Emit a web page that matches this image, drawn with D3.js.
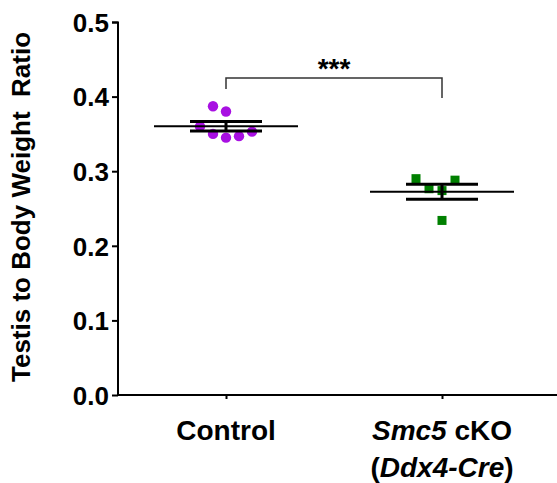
<!DOCTYPE html>
<head>
<script src="https://cdn.jsdelivr.net/npm/d3@7"></script>
<style>
body { margin: 0; background: #fff; font-family: "Liberation Sans", Arial, sans-serif; }
</style>
</head>
<body>
<svg></svg>
<script>
    // data
    var groups = ["Control", "Smc5"];
    var controlVals = [0.387, 0.380, 0.360, 0.350, 0.345, 0.347, 0.353];
    var controlJitter = [-1, 0, -2, -1, 0, 1, 2];
    var smc5Vals = [0.290, 0.2765, 0.274, 0.288, 0.234];
    var smc5Jitter = [-2, -1, 0, 1, 0];
    var yTicks = [0.0, 0.1, 0.2, 0.3, 0.4, 0.5];

    var width = 557, height = 483;
    var svg = d3.select("svg").attr("width", width).attr("height", height);

    var y = d3.scaleLinear().domain([0, 0.5]).range([395, 22]);
    var x = d3.scalePoint().domain(groups).range([226, 442]);
    var jit = 13; // px per jitter step

    function mean(a) { return d3.mean(a); }
    function sem(a) { return d3.deviation(a) / Math.sqrt(a.length); }

    // y axis
    var yAxis = d3.axisLeft(y).tickValues(yTicks).tickFormat(d3.format(".1f")).tickSize(6).tickPadding(3);
    var ya = svg.append("g").attr("transform", "translate(118,0)").call(yAxis);
    ya.select(".domain").attr("stroke", "#000").attr("stroke-width", 2).attr("d", "M-6,22.5H0V395");
    ya.selectAll(".tick line").attr("stroke", "#000").attr("stroke-width", 2);
    ya.selectAll(".tick text").attr("fill", "#000").style("font-size", "26px").style("font-weight", "bold")
        .style("font-family", "Liberation Sans, Arial, sans-serif").attr("dy", "0.36em");

    // x axis
    var xAxis = d3.axisBottom(x).tickSize(4).tickFormat("");
    var xa = svg.append("g").attr("transform", "translate(0,395)").call(xAxis);
    xa.select(".domain").attr("stroke", "#000").attr("stroke-width", 2).attr("d", "M117,0H557");
    xa.selectAll(".tick line").attr("stroke", "#000").attr("stroke-width", 2);

    // points
    svg.append("g").selectAll("circle").data(controlVals).enter().append("circle")
        .attr("cx", function (d, i) { return x("Control") + controlJitter[i] * jit; })
        .attr("cy", function (d) { return y(d); })
        .attr("r", 5.2)
        .attr("fill", "#a810e2");

    svg.append("g").selectAll("rect").data(smc5Vals).enter().append("rect")
        .attr("x", function (d, i) { return x("Smc5") + smc5Jitter[i] * jit - 4.5; })
        .attr("y", function (d) { return y(d) - 4.5; })
        .attr("width", 9).attr("height", 9)
        .attr("fill", "#008000");

    // mean and SEM
    var stats = [
        { g: "Control", m: mean(controlVals), s: sem(controlVals) },
        { g: "Smc5", m: mean(smc5Vals), s: sem(smc5Vals) }
    ];
    var st = svg.append("g").selectAll("g").data(stats).enter().append("g");
    st.append("line")
        .attr("x1", function (d) { return x(d.g) - 72; })
        .attr("x2", function (d) { return x(d.g) + 72; })
        .attr("y1", function (d) { return y(d.m); })
        .attr("y2", function (d) { return y(d.m); })
        .attr("stroke", "#000").attr("stroke-width", 2);
    st.append("line")
        .attr("x1", function (d) { return x(d.g); })
        .attr("x2", function (d) { return x(d.g); })
        .attr("y1", function (d) { return y(d.m + d.s); })
        .attr("y2", function (d) { return y(d.m - d.s); })
        .attr("stroke", "#000").attr("stroke-width", 3);
    [1, -1].forEach(function (sgn) {
        st.append("line")
            .attr("x1", function (d) { return x(d.g) - 36; })
            .attr("x2", function (d) { return x(d.g) + 36; })
            .attr("y1", function (d) { return y(d.m + sgn * d.s); })
            .attr("y2", function (d) { return y(d.m + sgn * d.s); })
            .attr("stroke", "#000").attr("stroke-width", 3);
    });

    // significance bracket
    svg.append("path")
        .attr("d", "M" + x("Control") + ",89V78H" + x("Smc5") + "V98")
        .attr("fill", "none").attr("stroke", "#333").attr("stroke-width", 1.5);
    svg.append("text")
        .attr("x", (x("Control") + x("Smc5")) / 2).attr("y", 78)
        .attr("text-anchor", "middle")
        .style("font-size", "28px").style("font-weight", "bold")
        .text("***");

    // category labels
    var lab = svg.append("g").style("font-size", "28px").style("font-weight", "bold").attr("text-anchor", "middle");
    lab.append("text").attr("x", x("Control")).attr("y", 440).text("Control");
    var t1 = lab.append("text").attr("x", x("Smc5")).attr("y", 440);
    t1.append("tspan").style("font-style", "italic").text("Smc5");
    t1.append("tspan").text(" cKO");
    var t2 = lab.append("text").attr("x", x("Smc5")).attr("y", 477);
    t2.append("tspan").text("(");
    t2.append("tspan").style("font-style", "italic").text("Ddx4-Cre");
    t2.append("tspan").text(")");

    // y title
    svg.append("text")
        .attr("transform", "translate(30,207)rotate(-90)")
        .attr("text-anchor", "middle")
        .style("font-size", "26px").style("font-weight", "bold")
        .text("Testis to Body Weight\u00a0 Ratio");
</script>
</body>
